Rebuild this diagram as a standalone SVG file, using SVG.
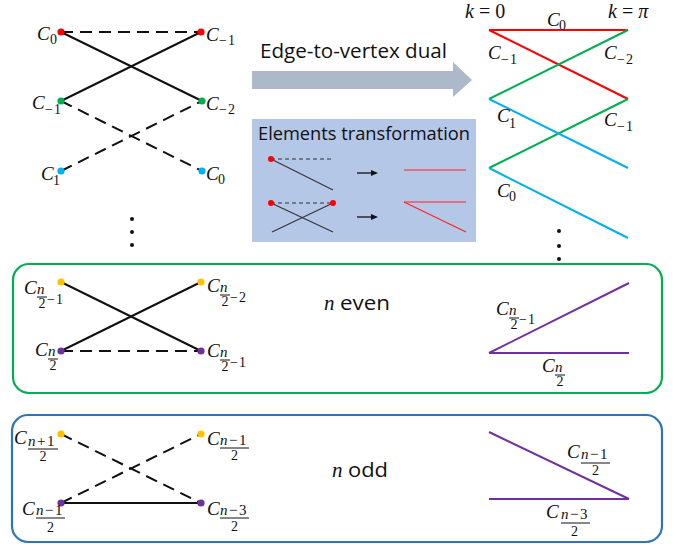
<svg xmlns="http://www.w3.org/2000/svg" width="676" height="544" viewBox="0 0 676 544">
<style>
.c{font-family:"Liberation Serif",serif;font-style:italic;font-size:19px;fill:#111}
.d{font-family:"Liberation Serif",serif;font-size:14px;fill:#111}
.n{font-family:"Liberation Serif",serif;font-style:italic;font-size:15px;fill:#111}
.u{font-style:normal}
.bar{stroke:#111;stroke-width:1}
.sans{font-family:"Open Sans","Liberation Sans",sans-serif;fill:#111}
.e{stroke:#111;stroke-width:2;fill:none}
.dash{stroke-dasharray:12 7}
.thin{stroke:#333;stroke-width:1.1;fill:none}
.tdash{stroke-dasharray:4 3}
.rl{stroke:#ff2020;stroke-width:1.1;fill:none}
.red{stroke:#ff0000;stroke-width:2;fill:none}
.grn{stroke:#00b050;stroke-width:2;fill:none}
.blu{stroke:#00b0f0;stroke-width:2;fill:none}
.pur{stroke:#7030a0;stroke-width:2;fill:none}
</style>
<rect width="676" height="544" fill="#fff"/>

<!-- connectors -->
<g id="connectors">
  <line class="e dash" x1="61" y1="32" x2="201" y2="32"/>
  <line class="e" x1="61" y1="32" x2="202" y2="101"/>
  <line class="e" x1="61" y1="101" x2="201" y2="32"/>
  <line class="e dash" x1="61" y1="101" x2="202" y2="171"/>
  <line class="e dash" x1="61" y1="171" x2="202" y2="101"/>
  <line class="e" x1="61" y1="282" x2="201" y2="351"/>
  <line class="e" x1="61" y1="351" x2="201" y2="282"/>
  <line class="e dash" x1="61" y1="351" x2="201" y2="351"/>
  <line class="e dash" x1="61" y1="434" x2="201" y2="503"/>
  <line class="e dash" x1="61" y1="503" x2="201" y2="434"/>
  <line class="e" x1="61" y1="503" x2="201" y2="503"/>
  <line class="red" x1="489" y1="30" x2="628" y2="30"/>
  <line class="red" x1="489" y1="30" x2="628" y2="99"/>
  <line class="grn" x1="489" y1="99" x2="628" y2="30"/>
  <line class="grn" x1="489" y1="168" x2="628" y2="99"/>
  <line class="blu" x1="489" y1="99" x2="628" y2="168"/>
  <line class="blu" x1="489" y1="168" x2="628" y2="238"/>
  <line class="pur" x1="489" y1="353" x2="629" y2="283"/>
  <line class="pur" x1="489" y1="353" x2="629" y2="353"/>
  <line class="pur" x1="489" y1="432" x2="629" y2="499"/>
  <line class="pur" x1="489" y1="499" x2="629" y2="499"/>
</g>

<!-- top-left nodes -->
<g id="tl-c0">
  <circle cx="61" cy="32" r="3.6" fill="#ff0000"/>
  <text class="c" x="37" y="40">C</text><text class="d" x="50" y="44">0</text>
</g>
<g id="tl-cm1r">
  <circle cx="201" cy="32" r="3.6" fill="#ff0000"/>
  <text class="c" x="206" y="41">C</text><text class="d" x="219" y="45">−<tspan dx="1">1</tspan></text>
</g>
<g id="tl-cm1l">
  <circle cx="61" cy="101" r="3.6" fill="#00b050"/>
  <text class="c" x="32" y="109">C</text><text class="d" x="45" y="114">−<tspan dx="1">1</tspan></text>
</g>
<g id="tl-cm2">
  <circle cx="202" cy="101" r="3.6" fill="#00b050"/>
  <text class="c" x="206" y="110">C</text><text class="d" x="219" y="114">−<tspan dx="1">2</tspan></text>
</g>
<g id="tl-c1">
  <circle cx="61" cy="171" r="3.6" fill="#00b0f0"/>
  <text class="c" x="41" y="180">C</text><text class="d" x="53" y="185">1</text>
</g>
<g id="tl-c0b">
  <circle cx="202" cy="171" r="3.6" fill="#00b0f0"/>
  <text class="c" x="206" y="180">C</text><text class="d" x="218" y="184">0</text>
</g>
<g id="tl-dots" fill="#111">
  <circle cx="132" cy="219" r="2"/><circle cx="132" cy="232" r="2"/><circle cx="132" cy="245" r="2"/>
</g>

<!-- big arrow -->
<g id="dual-arrow">
  <polygon points="252,71 453,71 453,62 472,80 453,97 453,89 252,89" fill="#adb9ca"/>
  <text class="sans" x="260" y="58" font-size="20" textLength="187" lengthAdjust="spacingAndGlyphs">Edge-to-vertex dual</text>
</g>

<!-- elements transformation box -->
<g id="elements-box">
  <rect x="252" y="119" width="224" height="123" fill="#b4c7e7"/>
  <text class="sans" x="258" y="140" font-size="19" textLength="212" lengthAdjust="spacingAndGlyphs">Elements transformation</text>
  <line class="thin tdash" x1="271" y1="159" x2="333" y2="159"/>
  <line class="thin" x1="271" y1="159" x2="333" y2="190"/>
  <circle cx="271" cy="159" r="3" fill="#ff0000"/>
  <line x1="357" y1="173" x2="372" y2="173" stroke="#111" stroke-width="1.3"/>
  <polygon points="378,173 371,170 371,176" fill="#111"/>
  <line class="rl" x1="404" y1="170" x2="466" y2="170"/>
  <line class="thin tdash" x1="271" y1="203" x2="333" y2="203"/>
  <line class="thin" x1="271" y1="203" x2="333" y2="232"/>
  <line class="thin" x1="333" y1="203" x2="272" y2="232"/>
  <circle cx="271" cy="203" r="3" fill="#ff0000"/>
  <circle cx="333" cy="203" r="3" fill="#ff0000"/>
  <line x1="357" y1="217" x2="372" y2="217" stroke="#111" stroke-width="1.3"/>
  <polygon points="378,217 371,214 371,220" fill="#111"/>
  <line class="rl" x1="404" y1="202" x2="466" y2="202"/>
  <line class="rl" x1="404" y1="202" x2="466" y2="232"/>
</g>

<!-- top-right labels -->
<g id="tr-labels">
  <text class="c" x="465" y="18" style="font-size:20px">k<tspan class="u" dx="5">=</tspan><tspan class="u" dx="5">0</tspan></text>
  <text class="c" x="608" y="18" style="font-size:20px">k<tspan class="u" dx="5">=</tspan><tspan dx="5">π</tspan></text>
  <text class="c" x="547" y="26">C</text><text class="d" x="559" y="30">0</text>
  <text class="c" x="488" y="59">C</text><text class="d" x="501" y="64">−<tspan dx="1">1</tspan></text>
  <text class="c" x="604" y="59">C</text><text class="d" x="617" y="64">−<tspan dx="1">2</tspan></text>
  <text class="c" x="497" y="122">C</text><text class="d" x="509" y="128">1</text>
  <text class="c" x="604" y="126">C</text><text class="d" x="617" y="131">−<tspan dx="1">1</tspan></text>
  <text class="c" x="497" y="197">C</text><text class="d" x="509" y="201">0</text>
</g>
<g id="tr-dots" fill="#111">
  <circle cx="559" cy="231" r="2"/><circle cx="559" cy="246" r="2"/><circle cx="559" cy="259" r="2"/>
</g>

<!-- n even box -->
<g id="even-box">
  <rect x="13" y="264" width="649" height="129" rx="16" fill="none" stroke="#00b050" stroke-width="2.2"/>
  <text class="c" x="324" y="310" style="font-size:21px">n</text>
  <text class="sans" x="340" y="310" font-size="20" textLength="50" lengthAdjust="spacingAndGlyphs">even</text>
</g>
<g id="even-a">
  <circle cx="61" cy="282" r="3.6" fill="#ffc000"/>
  <g transform="translate(24,294)">
    <text class="c" x="0" y="0">C</text><text class="n" x="13" y="0">n</text>
    <line class="bar" x1="13" y1="3" x2="23" y2="3"/><text class="d" x="14.5" y="14">2</text>
    <text class="d" x="23" y="10">−<tspan dx="1">1</tspan></text>
  </g>
</g>
<g id="even-b">
  <circle cx="201" cy="282" r="3.6" fill="#ffc000"/>
  <g transform="translate(207,292)">
    <text class="c" x="0" y="0">C</text><text class="n" x="13" y="0">n</text>
    <line class="bar" x1="13" y1="3" x2="23" y2="3"/><text class="d" x="14.5" y="14">2</text>
    <text class="d" x="23" y="10">−<tspan dx="1">2</tspan></text>
  </g>
</g>
<g id="even-c">
  <circle cx="61" cy="351" r="3.6" fill="#7030a0"/>
  <g transform="translate(35,356)">
    <text class="c" x="0" y="0">C</text><text class="n" x="13" y="0">n</text>
    <line class="bar" x1="13" y1="3" x2="23" y2="3"/><text class="d" x="14.5" y="14">2</text>
  </g>
</g>
<g id="even-d">
  <circle cx="201" cy="351" r="3.6" fill="#7030a0"/>
  <g transform="translate(207,357)">
    <text class="c" x="0" y="0">C</text><text class="n" x="13" y="0">n</text>
    <line class="bar" x1="13" y1="3" x2="23" y2="3"/><text class="d" x="14.5" y="14">2</text>
    <text class="d" x="23" y="10">−<tspan dx="1">1</tspan></text>
  </g>
</g>
<g id="even-right-labels">
  <g transform="translate(496,315)">
    <text class="c" x="0" y="0">C</text><text class="n" x="13" y="0">n</text>
    <line class="bar" x1="13" y1="3" x2="23" y2="3"/><text class="d" x="14.5" y="14">2</text>
    <text class="d" x="23" y="9">−<tspan dx="1">1</tspan></text>
  </g>
  <g transform="translate(542,372)">
    <text class="c" x="0" y="0">C</text><text class="n" x="13" y="0">n</text>
    <line class="bar" x1="13" y1="3" x2="23" y2="3"/><text class="d" x="14.5" y="14">2</text>
  </g>
</g>

<!-- n odd box -->
<g id="odd-box">
  <rect x="12" y="415" width="650" height="127" rx="16" fill="none" stroke="#2e75b6" stroke-width="2.2"/>
  <text class="c" x="332" y="477" style="font-size:21px">n</text>
  <text class="sans" x="348" y="477" font-size="20" textLength="40" lengthAdjust="spacingAndGlyphs">odd</text>
</g>
<g id="odd-a">
  <circle cx="61" cy="434" r="3.6" fill="#ffc000"/>
  <g transform="translate(14,444)">
    <text class="c" x="0" y="0">C</text>
    <text class="n" x="14" y="2">n<tspan class="u" dx="1.5">+</tspan><tspan class="u" dx="1.5">1</tspan></text>
    <line class="bar" x1="14" y1="5" x2="44" y2="5"/><text class="d" x="25.5" y="17">2</text>
  </g>
</g>
<g id="odd-b">
  <circle cx="201" cy="434" r="3.6" fill="#ffc000"/>
  <g transform="translate(207,445)">
    <text class="c" x="0" y="0">C</text>
    <text class="n" x="13" y="0">n<tspan class="u" dx="1.5">−</tspan><tspan class="u" dx="1.5">1</tspan></text>
    <line class="bar" x1="13" y1="3" x2="42" y2="3"/><text class="d" x="24" y="15">2</text>
  </g>
</g>
<g id="odd-c">
  <circle cx="61" cy="503" r="3.6" fill="#7030a0"/>
  <g transform="translate(22,515)">
    <text class="c" x="0" y="0">C</text>
    <text class="n" x="14" y="0">n<tspan class="u" dx="1.5">−</tspan><tspan class="u" dx="1.5">1</tspan></text>
    <line class="bar" x1="14" y1="3" x2="43" y2="3"/><text class="d" x="25" y="17">2</text>
  </g>
</g>
<g id="odd-d">
  <circle cx="201" cy="503" r="3.6" fill="#7030a0"/>
  <g transform="translate(207,515)">
    <text class="c" x="0" y="0">C</text>
    <text class="n" x="13" y="0">n<tspan class="u" dx="1.5">−</tspan><tspan class="u" dx="1.5">3</tspan></text>
    <line class="bar" x1="13" y1="3" x2="42" y2="3"/><text class="d" x="24" y="16">2</text>
  </g>
</g>
<g id="odd-right-labels">
  <g transform="translate(567,458)">
    <text class="c" x="0" y="0">C</text>
    <text class="n" x="14" y="1">n<tspan class="u" dx="1.5">−</tspan><tspan class="u" dx="1.5">1</tspan></text>
    <line class="bar" x1="14" y1="5" x2="43" y2="5"/><text class="d" x="25" y="17">2</text>
  </g>
  <g transform="translate(546,518)">
    <text class="c" x="0" y="0">C</text>
    <text class="n" x="15" y="1">n<tspan class="u" dx="1.5">−</tspan><tspan class="u" dx="1.5">3</tspan></text>
    <line class="bar" x1="15" y1="5" x2="44" y2="5"/><text class="d" x="25" y="18">2</text>
  </g>
</g>
</svg>
